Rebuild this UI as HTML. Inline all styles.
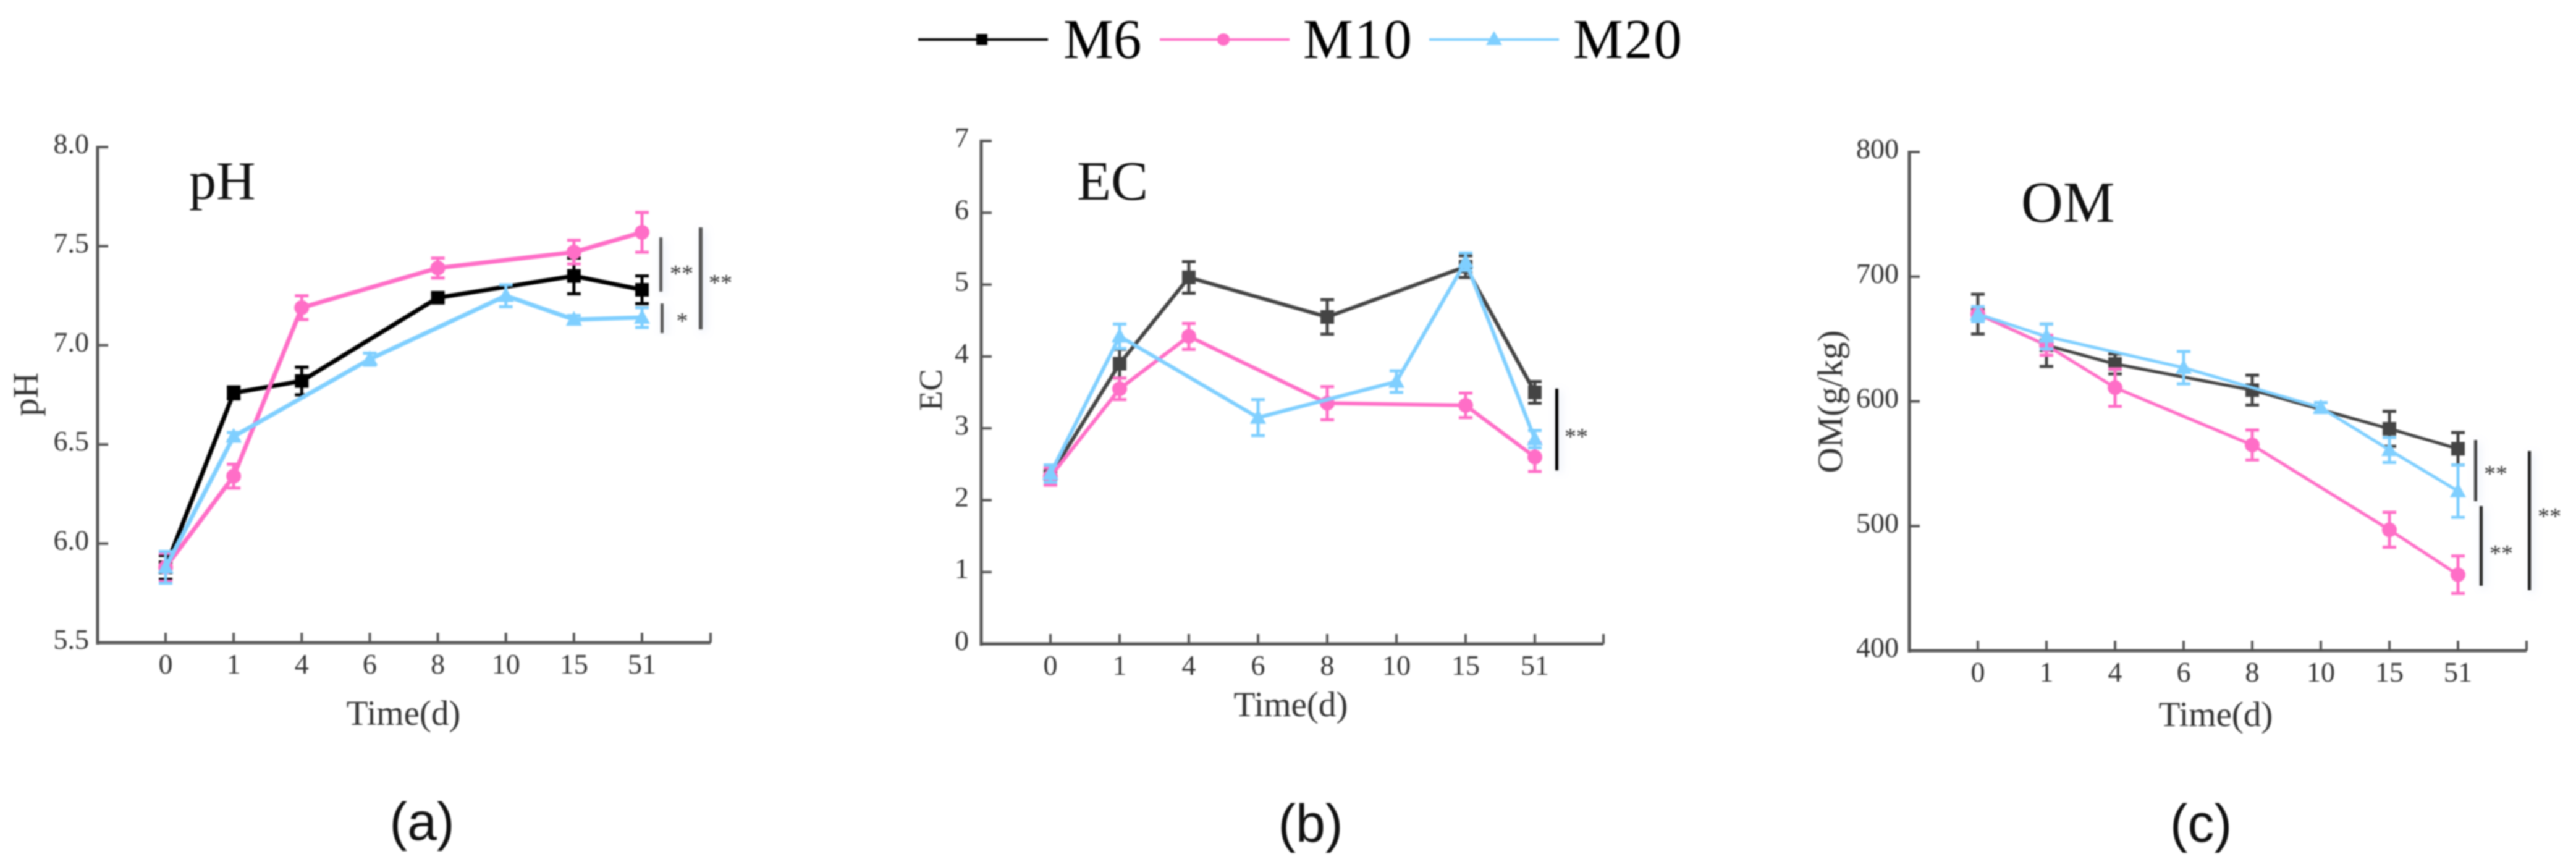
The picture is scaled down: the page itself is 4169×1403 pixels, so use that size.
<!DOCTYPE html>
<html lang="en">
<head>
<meta charset="utf-8">
<title>M6 M10 M20 compost parameters</title>
<style>
html,body{margin:0;padding:0;background:#fff;width:4169px;height:1403px;overflow:hidden}
svg{display:block;position:absolute;left:0;top:0;filter:blur(1.2px)}
text{font-family:"Liberation Serif",serif}
</style>
</head>
<body>
<svg id="chart" xmlns="http://www.w3.org/2000/svg" width="4169" height="1403" viewBox="0 0 4169 1403">
<defs>
<filter id="glow" x="-800%" y="-10%" width="1700%" height="120%">
<feDropShadow dx="4" dy="4" stdDeviation="7" flood-color="#9fb4e0" flood-opacity="0.35"/>
</filter>
</defs>
<rect x="0" y="0" width="4169" height="1403" fill="#fff"/>

<g>
<g>
<line x1="1486" y1="64" x2="1696" y2="64" stroke="#000" stroke-width="4"/>
<rect x="1580" y="55" width="18" height="18" fill="#000"/>
<text x="1721" y="94" font-size="91" fill="#000">M6</text>
</g>
<g>
<line x1="1877" y1="64" x2="2087" y2="64" stroke="#ff6ec7" stroke-width="4"/>
<circle cx="1980" cy="64" r="10" fill="#ff6ec7"/>
<text x="2109" y="94" font-size="91" letter-spacing="2" fill="#000">M10</text>
</g>
<g>
<line x1="2313" y1="64" x2="2523" y2="64" stroke="#7fcfff" stroke-width="4"/>
<polygon points="2418,50 2431,73 2405,73" fill="#7fcfff"/>
<text x="2546" y="94" font-size="91" letter-spacing="2" fill="#000">M20</text>
</g>
</g>

<g id="panel-a"></g>
<g id="panel-b"></g>
<g id="panel-c"></g>

<text x="306" y="322" font-size="88" fill="#111">pH</text>
<text x="1743" y="323" font-size="90" fill="#111">EC</text>
<text x="3271" y="359" font-size="94" fill="#111">OM</text>

<text transform="translate(61,638) rotate(-90)" text-anchor="middle" font-size="58" fill="#333">pH</text>
<text transform="translate(1524,631) rotate(-90)" text-anchor="middle" font-size="53" fill="#333">EC</text>
<text transform="translate(2981,650) rotate(-90)" text-anchor="middle" font-size="57" fill="#333">OM(g/kg)</text>

<text x="653" y="1173" text-anchor="middle" font-size="57" fill="#333">Time(d)</text>
<text x="2089" y="1159" text-anchor="middle" font-size="57" fill="#333">Time(d)</text>
<text x="3586" y="1175" text-anchor="middle" font-size="57" fill="#333">Time(d)</text>

<g>
<rect x="1067" y="384" width="5" height="88" fill="#555" filter="url(#glow)"/>
<text x="1103" y="455" text-anchor="middle" font-size="38" fill="#333">**</text>
<rect x="1069" y="491" width="5" height="48" fill="#555" filter="url(#glow)"/>
<text x="1104" y="532" text-anchor="middle" font-size="38" fill="#333">*</text>
<rect x="1131" y="368" width="6" height="165" fill="#555" filter="url(#glow)"/>
<text x="1166" y="470" text-anchor="middle" font-size="38" fill="#333">**</text>
</g>
<g>
<rect x="2517" y="629" width="5" height="132" fill="#000" filter="url(#glow)"/>
<text x="2551" y="719" text-anchor="middle" font-size="38" fill="#333">**</text>
</g>
<g>
<rect x="4004" y="712" width="5" height="99" fill="#444" filter="url(#glow)"/>
<text x="4039" y="779" text-anchor="middle" font-size="38" fill="#333">**</text>
<rect x="4013" y="819" width="5" height="129" fill="#222" filter="url(#glow)"/>
<text x="4048" y="908" text-anchor="middle" font-size="38" fill="#333">**</text>
<rect x="4091" y="730" width="5" height="225" fill="#222" filter="url(#glow)"/>
<text x="4126" y="848" text-anchor="middle" font-size="38" fill="#333">**</text>
</g>

<text x="683" y="1359" text-anchor="middle" font-size="86" fill="#111" style="font-family:'Liberation Sans',sans-serif">(a)</text>
<text x="2121" y="1362" text-anchor="middle" font-size="86" fill="#111" style="font-family:'Liberation Sans',sans-serif">(b)</text>
<text x="3562" y="1362" text-anchor="middle" font-size="86" fill="#111" style="font-family:'Liberation Sans',sans-serif">(c)</text>
</svg>

<script>
// Shared categories
const categories = ["0", "1", "4", "6", "8", "10", "15", "51"];

// pH panel data
const phTicks = ["5.5", "6.0", "6.5", "7.0", "7.5", "8.0"];
const phM6 = [5.88, 6.76, 6.82, null, 7.24, null, 7.35, 7.28];
const phM10 = [5.88, 6.34, 7.19, null, 7.39, null, 7.47, 7.57];
const phM20 = [5.88, 6.54, null, 6.93, null, 7.25, 7.13, 7.14];
const phM6Err = [0.06, 0.03, 0.07, null, 0.02, null, 0.09, 0.07];
const phM10Err = [0.07, 0.06, 0.06, null, 0.05, null, 0.06, 0.1];
const phM20Err = [0.08, 0.02, null, 0.03, null, 0.055, 0.02, 0.05];

// EC panel data
const ecTicks = ["0", "1", "2", "3", "4", "5", "6", "7"];
const ecM6 = [2.35, 3.9, 5.1, null, 4.55, null, 5.25, 3.5];
const ecM10 = [2.33, 3.55, 4.28, null, 3.35, null, 3.32, 2.6];
const ecM20 = [2.37, 4.28, null, 3.15, null, 3.65, 5.32, 2.85];
const ecM6Err = [0.1, 0.2, 0.22, null, 0.24, null, 0.15, 0.15];
const ecM10Err = [0.12, 0.15, 0.18, null, 0.23, null, 0.17, 0.2];
const ecM20Err = [0.12, 0.17, null, 0.25, null, 0.15, 0.12, 0.12];

// OM panel data
const omTicks = ["400", "500", "600", "700", "800"];
const omM6 = [670, 645, 630, null, 609, null, 578, 562];
const omM10 = [670, 645, 611, null, 565, null, 497, 461];
const omM20 = [670, 652, null, 627, null, 595, 561, 528];
const omM6Err = [16, 17, 8, null, 12, null, 14, 13];
const omM10Err = [6, 8, 15, null, 12, null, 14, 15];
const omM20Err = [6, 10, null, 13, null, 4, 10, 21];

const NS = "http://www.w3.org/2000/svg";

function mk(parent, tag, attrs, name) {
  const el = document.createElementNS(NS, tag);
  for (const k in attrs) el.setAttribute(k, attrs[k]);
  
  
  parent.appendChild(el);
  return el;
}

function drawPanel(cfg) {
  const g = document.getElementById(cfg.id);
  const lo = parseFloat(cfg.ticks[0]);
  const hi = parseFloat(cfg.ticks[cfg.ticks.length - 1]);
  const yScale = v => cfg.bottom + (v - lo) / (hi - lo) * (cfg.top - cfg.bottom);
  const xScale = i => cfg.x0 + i * (cfg.x7 - cfg.x0) / (categories.length - 1);
  const axisColor = "#555";

  mk(g, "line", {x1: cfg.left, y1: cfg.top - 2, x2: cfg.left, y2: cfg.bottom + 3, stroke: axisColor, "stroke-width": 5}, cfg.key + "-y-axis");
  mk(g, "line", {x1: cfg.left - 2, y1: cfg.bottom, x2: cfg.right, y2: cfg.bottom, stroke: axisColor, "stroke-width": 5}, cfg.key + "-x-axis");
  mk(g, "line", {x1: cfg.right, y1: cfg.bottom - 16, x2: cfg.right, y2: cfg.bottom, stroke: axisColor, "stroke-width": 4}, cfg.key + "-x-axis-end-tick");

  cfg.ticks.forEach(t => {
    const y = yScale(parseFloat(t));
    mk(g, "line", {x1: cfg.left, y1: y, x2: cfg.left + 17, y2: y, stroke: axisColor, "stroke-width": 4}, cfg.key + "-y-tick-" + t);
    const lbl = mk(g, "text", {x: cfg.left - cfg.labelGap, y: y + 10, "text-anchor": "end", "font-size": 46, fill: "#333"}, cfg.key + "-y-tick-label-" + t);
    lbl.textContent = t;
  });

  categories.forEach((c, i) => {
    const x = xScale(i);
    mk(g, "line", {x1: x, y1: cfg.bottom - 16, x2: x, y2: cfg.bottom, stroke: axisColor, "stroke-width": 4}, cfg.key + "-x-tick-" + c);
    const lbl = mk(g, "text", {x: x, y: cfg.bottom + 50, "text-anchor": "middle", "font-size": 46, fill: "#333"}, cfg.key + "-x-tick-label-" + c);
    lbl.textContent = c;
  });

  cfg.series.forEach(s => {
    const sg = mk(g, "g", {}, cfg.key + "-series-" + s.name);
    const pts = [];
    s.values.forEach((v, i) => { if (v !== null) pts.push(xScale(i) + "," + yScale(v)); });
    mk(sg, "polyline", {points: pts.join(" "), fill: "none", stroke: s.color, "stroke-width": cfg.lineWidth, "stroke-linejoin": "round"}, cfg.key + "-line-" + s.name);
    s.values.forEach((v, i) => {
      if (v === null) return;
      const x = xScale(i), y = yScale(v), e = s.errors[i] || 0;
      const yt = yScale(v + e), yb = yScale(v - e), cw = 11;
      mk(sg, "path", {d: "M" + x + " " + yt + "V" + yb + "M" + (x - cw) + " " + yt + "H" + (x + cw) + "M" + (x - cw) + " " + yb + "H" + (x + cw), fill: "none", stroke: s.color, "stroke-width": 5}, cfg.key + "-error-bar-" + s.name + "-" + categories[i]);
      const mn = cfg.key + "-point-" + s.name + "-" + categories[i];
      if (s.marker === "square") {
        mk(sg, "rect", {x: x - 11, y: y - 11, width: 22, height: 22, fill: s.color}, mn);
      } else if (s.marker === "circle") {
        mk(sg, "circle", {cx: x, cy: y, r: 12, fill: s.color}, mn);
      } else {
        mk(sg, "polygon", {points: x + "," + (y - 14) + " " + (x + 13) + "," + (y + 10) + " " + (x - 13) + "," + (y + 10), fill: s.color}, mn);
      }
    });
  });
}

const pink = "#ff6ec7", sky = "#7fcfff";

drawPanel({
  id: "panel-a", key: "ph", ticks: phTicks,
  left: 158, right: 1150, top: 238, bottom: 1040, x0: 268, x7: 1039, labelGap: 14, lineWidth: 7,
  series: [
    {name: "m6", values: phM6, errors: phM6Err, color: "#000", marker: "square"},
    {name: "m10", values: phM10, errors: phM10Err, color: pink, marker: "circle"},
    {name: "m20", values: phM20, errors: phM20Err, color: sky, marker: "triangle"}
  ]
});
drawPanel({
  id: "panel-b", key: "ec", ticks: ecTicks,
  left: 1588, right: 2595, top: 228, bottom: 1042, x0: 1700, x7: 2484, labelGap: 20, lineWidth: 6,
  series: [
    {name: "m6", values: ecM6, errors: ecM6Err, color: "#444", marker: "square"},
    {name: "m10", values: ecM10, errors: ecM10Err, color: pink, marker: "circle"},
    {name: "m20", values: ecM20, errors: ecM20Err, color: sky, marker: "triangle"}
  ]
});
drawPanel({
  id: "panel-c", key: "om", ticks: omTicks,
  left: 3090, right: 4089, top: 246, bottom: 1053, x0: 3201, x7: 3978, labelGap: 17, lineWidth: 5,
  series: [
    {name: "m6", values: omM6, errors: omM6Err, color: "#444", marker: "square"},
    {name: "m10", values: omM10, errors: omM10Err, color: pink, marker: "circle"},
    {name: "m20", values: omM20, errors: omM20Err, color: sky, marker: "triangle"}
  ]
});
</script>
</body>
</html>
